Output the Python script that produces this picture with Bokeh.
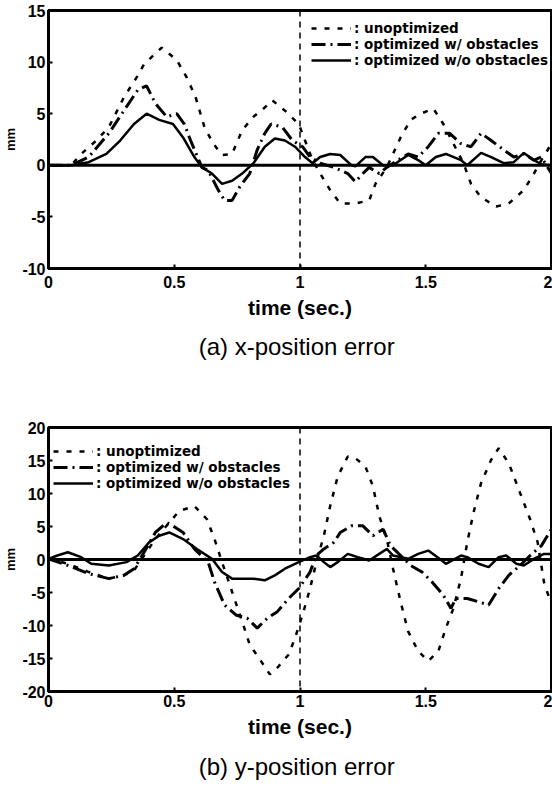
from bokeh.plotting import figure
from bokeh.layouts import column
from bokeh.models import Span, Title, Legend, LegendItem, FixedTicker
from bokeh.embed import file_html
from bokeh.resources import INLINE

# ---------------- data ----------------
x_ticks = [0, 0.5, 1, 1.5, 2]
x_tick_labels = ["0", "0.5", "1", "1.5", "2"]
ya_ticks = [-10, -5, 0, 5, 10, 15]
yb_ticks = [-20, -15, -10, -5, 0, 5, 10, 15, 20]
divider_time = 1.0
labels = [": unoptimized", ": optimized w/ obstacles", ": optimized w/o obstacles"]

# (a) x-position error
a_unopt_t = [0, 0.09, 0.13, 0.19, 0.24, 0.30, 0.35, 0.38, 0.45, 0.51, 0.55, 0.585, 0.62, 0.655, 0.69,
             0.73, 0.77, 0.815, 0.86, 0.89, 0.94, 0.995, 1.02, 1.05, 1.08, 1.12, 1.16, 1.22, 1.275,
             1.30, 1.345, 1.40, 1.44, 1.48, 1.53, 1.57, 1.61, 1.65, 1.68, 1.72, 1.78, 1.83, 1.89,
             1.93, 1.96, 2.0]
a_unopt_y = [0, 0, 1.1, 2.4, 3.7, 6.6, 8.5, 9.8, 11.4, 10.2, 8.5, 6.6, 3.7, 2.1, 1.0,
             1.1, 3.4, 4.7, 5.6, 6.3, 5.3, 4.0, 2.4, 0.5, -0.8, -2.4, -3.7, -3.7, -3.4,
             -1.8, -0.2, 2.7, 4.4, 5.0, 5.5, 4.0, 2.1, 0.2, -1.8, -3.1, -4.0, -3.7, -2.4,
             -0.8, 0.5, 2.1]

a_obst_t = [0, 0.09, 0.16, 0.24, 0.30, 0.355, 0.39, 0.425, 0.47, 0.51, 0.54, 0.565, 0.61, 0.635,
            0.675, 0.70, 0.73, 0.76, 0.80, 0.83, 0.86, 0.885, 0.93, 0.97, 1.01, 1.04, 1.08, 1.135,
            1.19, 1.22, 1.25, 1.275, 1.315, 1.345, 1.39, 1.43, 1.47, 1.51, 1.55, 1.595, 1.64,
            1.68, 1.72, 1.76, 1.81, 1.85, 1.89, 1.93, 1.96, 2.0]
a_obst_y = [0, 0, 0.8, 3.1, 5.3, 7.3, 7.7, 6.0, 4.7, 5.0, 4.0, 2.4, -0.2, -0.5,
            -2.4, -3.4, -3.4, -2.1, -0.8, 1.5, 3.1, 4.0, 3.7, 2.4, 1.8, 0.8, 0.2, -0.2,
            -0.8, -1.6, -0.8, -0.2, -0.8, -0.2, 0.5, 1.1, 0.8, 1.8, 3.1, 3.1, 2.1,
            1.8, 3.1, 2.4, 1.5, 0.8, 1.1, 0.5, 0.8, -0.8]

a_free_t = [0, 0.09, 0.16, 0.23, 0.285, 0.34, 0.39, 0.44, 0.495, 0.535, 0.58, 0.61, 0.65, 0.69,
            0.73, 0.77, 0.815, 0.86, 0.90, 0.94, 0.98, 1.02, 1.05, 1.08, 1.12, 1.16, 1.205, 1.22,
            1.26, 1.29, 1.33, 1.37, 1.43, 1.47, 1.50, 1.54, 1.58, 1.64, 1.665, 1.72, 1.76, 1.81,
            1.85, 1.89, 1.93, 1.96, 2.0]
a_free_y = [0, 0, 0.3, 1.1, 2.4, 4.0, 5.0, 4.4, 4.0, 2.7, 0.8, -0.2, -0.8, -1.8,
            -1.5, -0.8, 0.2, 1.8, 2.6, 2.4, 1.8, 0.8, 0.2, 0.8, 1.1, 1.0, 0, -0.1,
            0.8, 0.8, 0, 0, 1.0, 0.5, 0, 0.8, 1.1, 0.5, 0, 1.2, 0.8, 0.2,
            0.3, 1.2, 0.5, 0.1, 0]

# (b) y-position error
b_unopt_t = [0, 0.077, 0.16, 0.24, 0.30, 0.34, 0.38, 0.425, 0.48, 0.52, 0.58, 0.63, 0.66, 0.69,
             0.73, 0.77, 0.80, 0.845, 0.88, 0.91, 0.955, 0.98, 1.01, 1.04, 1.065, 1.095, 1.12,
             1.15, 1.19, 1.22, 1.26, 1.29, 1.315, 1.345, 1.37, 1.40, 1.43, 1.47, 1.51, 1.55,
             1.58, 1.61, 1.64, 1.665, 1.69, 1.72, 1.76, 1.79, 1.83, 1.875, 1.915, 1.945, 1.97, 2.0]
b_unopt_y = [0.1, -0.65, -1.9, -2.9, -2.4, -1.65, 0.6, 3.1, 5.6, 7.35, 8.1, 6.1, 3.1, -0.4,
             -4.9, -9.4, -12.9, -15.4, -17.4, -16.4, -14.4, -11.9, -8.4, -4.4, -0.4, 3.6, 8.1,
             12.6, 15.6, 15.35, 14.1, 11.1, 6.6, 3.1, -1.4, -6.4, -10.9, -13.9, -15.4, -13.9,
             -10.4, -7.4, -2.9, 2.6, 7.1, 11.6, 15.1, 16.85, 14.6, 10.1, 6.1, 2.6, -3.4, -6.9]

b_obst_t = [0, 0.077, 0.16, 0.24, 0.30, 0.34, 0.38, 0.425, 0.47, 0.495, 0.535, 0.58, 0.635, 0.66,
            0.70, 0.745, 0.79, 0.83, 0.87, 0.91, 0.955, 0.995, 1.04, 1.065, 1.095, 1.135, 1.16,
            1.205, 1.25, 1.29, 1.33, 1.36, 1.40, 1.44, 1.485, 1.525, 1.57, 1.60, 1.62, 1.665,
            1.71, 1.75, 1.79, 1.83, 1.875, 1.915, 1.96, 2.0]
b_obst_y = [0.1, -0.9, -2.15, -2.9, -2.4, -1.4, 1.1, 4.1, 5.6, 5.1, 4.1, 1.6, -0.4, -3.4,
            -6.9, -8.4, -8.9, -10.4, -8.9, -7.9, -5.9, -4.4, -1.9, 0.6, 1.6, 2.6, 4.1,
            5.1, 5.1, 3.6, 4.6, 2.1, 0.6, -0.9, -1.9, -3.4, -5.4, -7.4, -5.9, -5.9,
            -6.4, -6.9, -4.4, -2.4, -0.9, 0.6, 2.1, 4.6]

b_free_t = [0, 0.035, 0.077, 0.13, 0.17, 0.24, 0.31, 0.355, 0.40, 0.44, 0.48, 0.535, 0.59, 0.65,
            0.69, 0.73, 0.77, 0.815, 0.86, 0.90, 0.94, 0.995, 1.04, 1.065, 1.095, 1.12, 1.15,
            1.19, 1.23, 1.275, 1.315, 1.345, 1.37, 1.43, 1.47, 1.51, 1.555, 1.58, 1.64, 1.665,
            1.71, 1.75, 1.79, 1.82, 1.86, 1.89, 1.93, 1.97, 2.0]
b_free_y = [0.1, 0.6, 1.1, 0.35, -0.65, -0.9, -0.4, 0.6, 2.6, 3.6, 4.1, 3.1, 1.6, 0.1,
            -1.9, -2.9, -2.9, -2.9, -3.15, -2.4, -1.4, -0.4, 0.35, 0.6, -0.4, -1.15, -0.4,
            0.85, 0.35, -0.15, 0.85, 1.6, 0.6, 0.1, 0.85, 1.35, 0.1, -0.65, 0.6, 0.35,
            -0.65, -1.15, 0.35, 0.6, -0.65, -0.9, 0.1, 0.85, 0.85]

# ---------------- styling ----------------
TICK_FONT = "Liberation Sans"
TEXT_FONT = "Liberation Sans"
LEG_FONT = "DejaVu Sans"


def make_plot(y_range, y_ticks, series, caption, top_border, frame_h, bottom_border,
              legend_loc, ylabel_baseline, xlabel_standoff, caption_standoff):
    p = figure(width=552, height=top_border + frame_h + bottom_border,
               x_range=(0, 2), y_range=y_range,
               output_backend="svg", toolbar_location=None,
               min_border_left=43, min_border_right=1, min_border_top=top_border,
               min_border_bottom=bottom_border)
    p.grid.visible = False
    p.background_fill_color = "white"
    p.border_fill_color = "white"
    p.outline_line_color = "black"
    p.outline_line_width = 3

    p.xaxis.ticker = FixedTicker(ticks=x_ticks)
    p.xaxis.major_label_overrides = {t: s for t, s in zip(x_ticks, x_tick_labels)}
    p.yaxis.ticker = FixedTicker(ticks=y_ticks)
    p.yaxis.major_label_overrides = {t: str(t) for t in y_ticks}
    for ax in (p.xaxis, p.yaxis):
        ax.axis_line_color = "black"
        ax.axis_line_width = 3
        ax.major_tick_in = 4
        ax.major_tick_out = 0
        ax.major_tick_line_width = 2
        ax.minor_tick_line_color = None
        ax.major_label_text_font = TICK_FONT
        ax.major_label_text_font_style = "bold"
        ax.major_label_text_font_size = "16px"
        ax.major_label_text_color = "black"
    p.yaxis.major_label_text_baseline = ylabel_baseline
    p.xaxis.major_label_standoff = xlabel_standoff
    p.yaxis.major_label_standoff = 3
    p.xaxis.axis_label = "time (sec.)"
    p.xaxis.axis_label_text_font = TEXT_FONT
    p.xaxis.axis_label_text_font_style = "bold"
    p.xaxis.axis_label_text_font_size = "21px"
    p.xaxis.axis_label_text_color = "black"
    p.xaxis.axis_label_standoff = 5
    p.yaxis.axis_label = "mm"
    p.yaxis.axis_label_text_font = TEXT_FONT
    p.yaxis.axis_label_text_font_style = "bold"
    p.yaxis.axis_label_text_font_size = "13px"
    p.yaxis.axis_label_text_color = "black"
    p.yaxis.axis_label_standoff = 1

    p.add_layout(Span(location=0, dimension="width", line_color="black", line_width=3))
    p.add_layout(Span(location=divider_time, dimension="height", line_color="black",
                      line_width=1.5, line_dash="6 5"))

    (ut, uy), (ot, oy), (ft, fy) = series
    r1 = p.line(ut, uy, line_color="black", line_width=2.5, line_dash="5 8")
    r2 = p.line(ot, oy, line_color="black", line_width=3, line_dash="14 5 2 5")
    r3 = p.line(ft, fy, line_color="black", line_width=2.5)

    leg = Legend(items=[LegendItem(label=labels[0], renderers=[r1]),
                        LegendItem(label=labels[1], renderers=[r2]),
                        LegendItem(label=labels[2], renderers=[r3])],
                 location=legend_loc, background_fill_alpha=0, border_line_color=None,
                 label_text_font=LEG_FONT, label_text_font_style="bold",
                 label_text_font_size="13.5px", label_text_color="black",
                 label_height=12, glyph_height=12,
                 glyph_width=40, label_standoff=3, spacing=0, padding=1, margin=0)
    p.add_layout(leg)

    p.add_layout(Title(text=caption, align="center", text_font=TEXT_FONT,
                       text_font_style="normal", text_font_size="24px",
                       text_color="black", standoff=caption_standoff), "below")
    return p


pa = make_plot((-10, 15), ya_ticks,
               [(a_unopt_t, a_unopt_y), (a_obst_t, a_obst_y), (a_free_t, a_free_y)],
               "(a)  x-position error", 10, 258, 100, (263, 200), "top", 7, 18)
pb = make_plot((-20, 20), yb_ticks,
               [(b_unopt_t, b_unopt_y), (b_obst_t, b_obst_y), (b_free_t, b_free_y)],
               "(b)  y-position error", 59, 265, 97, (5, 200), "middle", 3, 20)

layout = column(pa, pb, spacing=0)
open("out.html", "w").write(file_html(layout, INLINE))
